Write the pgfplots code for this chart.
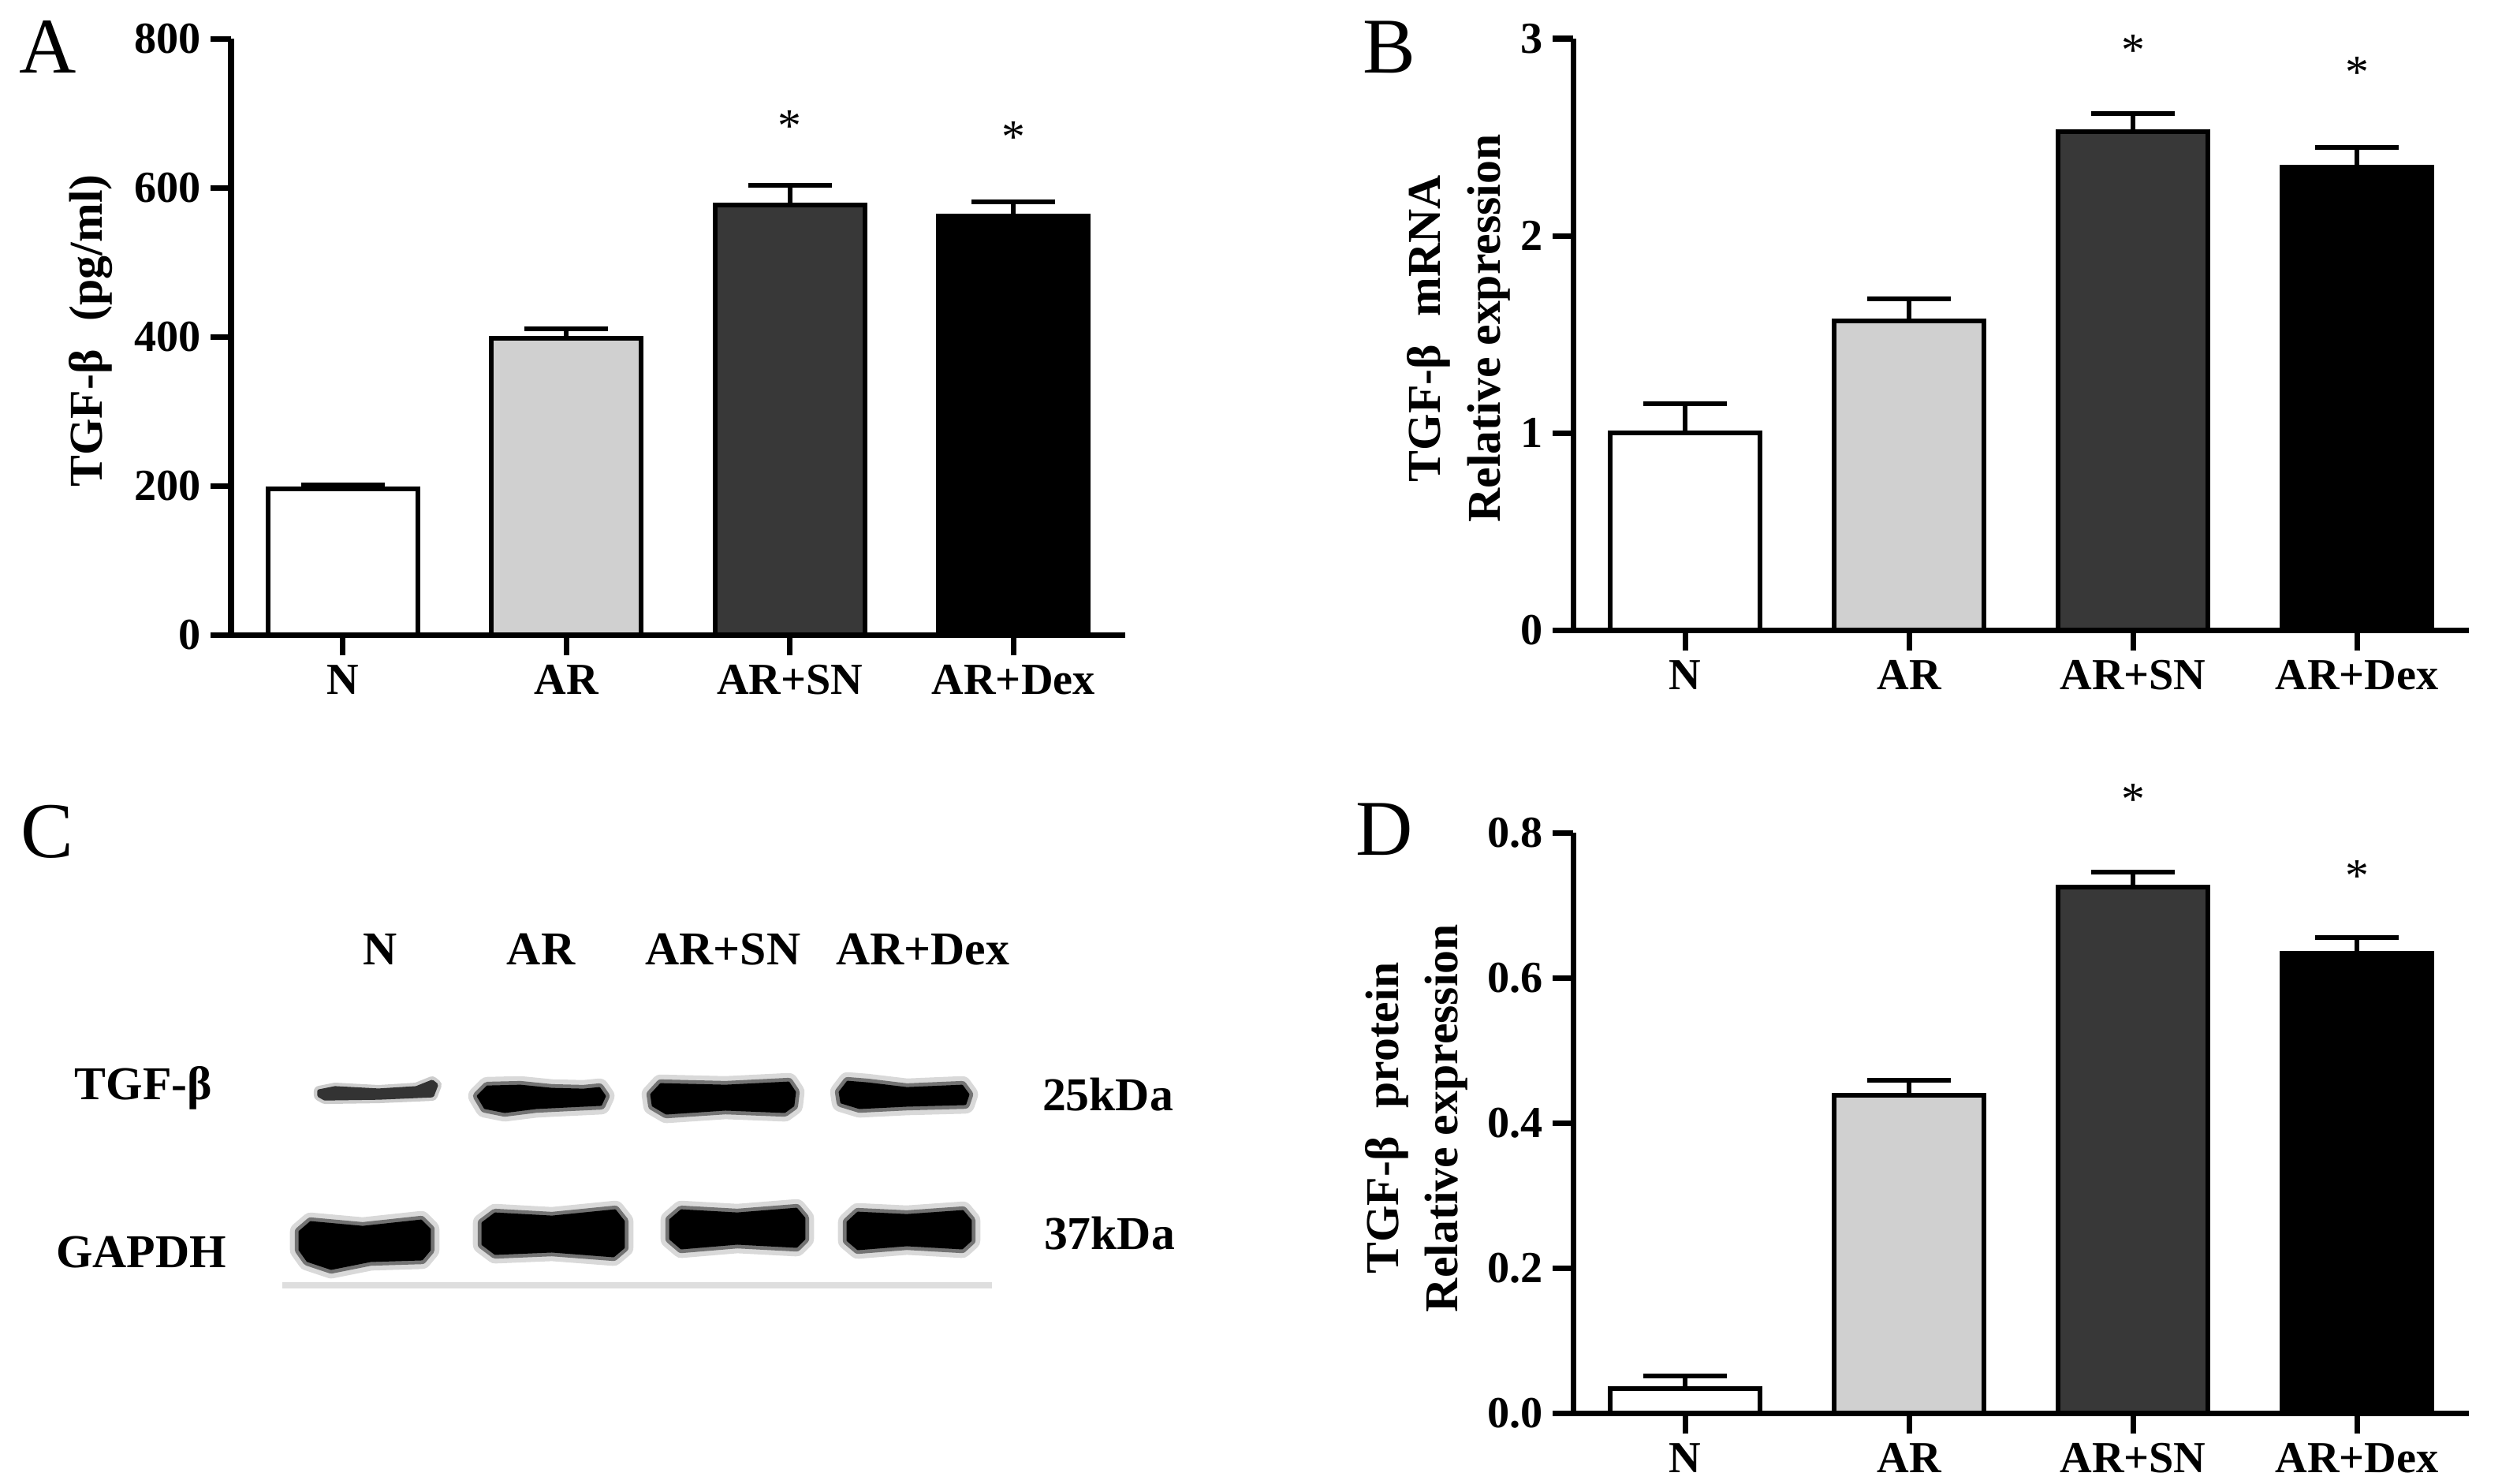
\documentclass[border=0pt]{standalone}
\usepackage{fontspec}
\setmainfont{Liberation Serif}
\usepackage{pgfplots}
\pgfplotsset{compat=1.18}

\definecolor{barAR}{HTML}{D0D0D0}
\definecolor{barSN}{HTML}{383838}

\newcommand{\tfont}{\fontsize{16}{19}\selectfont\bfseries}
\newcommand{\lfont}{\fontsize{17}{21.5}\selectfont\bfseries}

\pgfplotsset{
  prism/.style={
    scale only axis,
    anchor=south west,
    axis lines=left,
    axis line style={-, line width=2pt, black},
    tick align=outside,
    major tick length=0.26cm,
    tick style={line width=2pt, black},
    xmin=-0.5, xmax=3.5, ymin=0,
    enlargelimits=false,
    xtick={0,1,2,3},
    xticklabels={N,AR,AR+SN,AR+Dex},
    ticklabel style={font=\tfont},
    /pgf/number format/assume math mode=true,
    clip=false,
    every axis y label/.style={rotate=90, anchor=south, inner sep=0pt, align=center, font=\lfont},
  },
  prismbar/.style={ybar, bar shift=0pt, bar width=0.67, draw=black, line width=1.7pt,
    error bars/y dir=plus, error bars/y explicit,
    error bars/error bar style={line width=1.7pt, black},
    error bars/error mark=|,
    error bars/error mark options={line width=1.7pt, mark size=0.53cm, black}},
  stars/.style={draw=none, mark=none, point meta=explicit symbolic, nodes near coords,
    nodes near coords align={anchor=center},
    every node near coord/.append style={anchor=center, font=\fontsize{17}{19}\selectfont}},
}

% a blurred blot band: halo, soft edge, dark core
\newcommand{\band}[1]{%
  \addplot[draw=black!15, fill=black!15, line width=7pt, line join=round, mark=none] coordinates {#1} -- cycle;
  \addplot[draw=black!55, fill=black!55, line width=3.5pt, line join=round, mark=none] coordinates {#1} -- cycle;
  \addplot[draw=black, fill=black, line width=0.8pt, line join=round, mark=none] coordinates {#1} -- cycle;
}

\begin{document}
\begin{tikzpicture}
\path[use as bounding box] (0,0) rectangle (31.73,-18.81);

% ---------- background canvas: panel letters, western blot (panel C) ----------
\begin{axis}[at={(0,0)}, anchor=north west, scale only axis,
  width=31.73cm, height=18.81cm, xmin=0, xmax=3173, ymin=0, ymax=1881,
  y dir=reverse, hide axis, clip=false]
% TGF-beta bands (25 kDa)
\addplot[draw=black!20, fill=black!20, line width=4pt, line join=round, mark=none] coordinates {(405,1384)(425,1380)(480,1383)(528,1380)(548,1372)(553,1376)(548,1389)(480,1392)(412,1393)(405,1389)} -- cycle;
\addplot[draw=black!80, fill=black!80, line width=1.5pt, line join=round, mark=none] coordinates {(405,1384)(425,1380)(480,1383)(528,1380)(548,1372)(553,1376)(548,1389)(480,1392)(412,1393)(405,1389)} -- cycle;
\band{(606,1390)(618,1378)(660,1377)(700,1381)(740,1382)(760,1380)(767,1390)(762,1401)(720,1403)(680,1405)(640,1410)(615,1405)}
\band{(826,1388)(838,1375)(920,1377)(1000,1373)(1008,1385)(1006,1402)(995,1410)(920,1407)(845,1412)(828,1402)}
\band{(1065,1385)(1075,1372)(1100,1374)(1150,1380)(1220,1377)(1228,1388)(1224,1400)(1150,1402)(1090,1405)(1067,1398)}
% GAPDH bands (37 kDa)
\band{(380,1562)(394,1550)(460,1556)(534,1548)(545,1559)(545,1585)(535,1597)(470,1599)(420,1609)(390,1599)(380,1585)}
\band{(612,1551)(628,1539)(700,1543)(780,1535)(791,1549)(791,1582)(778,1593)(700,1587)(628,1590)(612,1578)}
\band{(850,1547)(864,1535)(935,1539)(1010,1533)(1020,1545)(1020,1571)(1010,1581)(935,1577)(864,1583)(850,1571)}
\band{(1075,1550)(1088,1538)(1150,1541)(1221,1536)(1231,1548)(1231,1573)(1220,1583)(1150,1579)(1088,1584)(1075,1573)}
% membrane edge line
\addplot[black!13, line width=2.2pt, mark=none] coordinates {(358,1630)(1258,1630)};

% panel letters
\node[anchor=base west, inner sep=0pt, font=\fontsize{28.5}{30}\selectfont] at (axis cs:24,92) {A};
\node[anchor=base west, inner sep=0pt, font=\fontsize{28.5}{30}\selectfont] at (axis cs:1728,92) {B};
\node[anchor=base west, inner sep=0pt, font=\fontsize{28.5}{30}\selectfont] at (axis cs:26,1087) {C};
\node[anchor=base west, inner sep=0pt, font=\fontsize{28.5}{30}\selectfont] at (axis cs:1719,1084) {D};

% blot labels
\node[anchor=base, inner sep=0pt, font=\lfont] at (axis cs:482,1223) {N};
\node[anchor=base, inner sep=0pt, font=\lfont] at (axis cs:686,1223) {AR};
\node[anchor=base, inner sep=0pt, font=\lfont] at (axis cs:917,1223) {AR+SN};
\node[anchor=base, inner sep=0pt, font=\lfont] at (axis cs:1170,1223) {AR+Dex};
\node[anchor=base, inner sep=0pt, font=\lfont] at (axis cs:182,1394) {TGF-β};
\node[anchor=base, inner sep=0pt, font=\lfont] at (axis cs:179,1607) {GAPDH};
\node[anchor=base, inner sep=0pt, font=\lfont] at (axis cs:1405,1408) {25kDa};
\node[anchor=base, inner sep=0pt, font=\lfont] at (axis cs:1407,1584) {37kDa};
\end{axis}

% ---------- Panel A ----------
\begin{axis}[prism, at={(2.93cm,-8.05cm)}, width=11.34cm, height=7.56cm,
  ymax=800, ytick={0,200,400,600,800},
  ylabel={TGF-β\hspace{0.6em}(pg/ml)},
  ylabel style={at={(axis description cs:-0.132,0.51)}}]
\addplot[prismbar, fill=white] coordinates {(0,196) +- (0,5)};
\addplot[prismbar, fill=barAR] coordinates {(1,398) +- (0,13)};
\addplot[prismbar, fill=barSN] coordinates {(2,577) +- (0,26)};
\addplot[prismbar, fill=black] coordinates {(3,562) +- (0,19)};
\addplot[stars] coordinates {(2,683) [*] (3,668) [*]};
\end{axis}

% ---------- Panel B ----------
\begin{axis}[prism, at={(19.95cm,-7.99cm)}, width=11.36cm, height=7.50cm,
  ymax=3, ytick={0,1,2,3},
  ylabel={TGF-β\hspace{0.6em}mRNA\\Relative expression},
  ylabel style={at={(axis description cs:-0.0700,0.51)}}]
\addplot[prismbar, fill=white] coordinates {(0,1.00) +- (0,0.15)};
\addplot[prismbar, fill=barAR] coordinates {(1,1.57) +- (0,0.11)};
\addplot[prismbar, fill=barSN] coordinates {(2,2.53) +- (0,0.09)};
\addplot[prismbar, fill=black] coordinates {(3,2.35) +- (0,0.10)};
\addplot[stars] coordinates {(2,2.94) [*] (3,2.83) [*]};
\end{axis}

% ---------- Panel D ----------
\begin{axis}[prism, at={(19.95cm,-17.92cm)}, width=11.36cm, height=7.36cm,
  ymax=0.8, ytick={0,0.2,0.4,0.6,0.8},
  yticklabel style={/pgf/number format/.cd, fixed, fixed zerofill, precision=1},
  ylabel={TGF-β\hspace{0.6em}protein\\Relative expression},
  ylabel style={at={(axis description cs:-0.1170,0.508)}}]
\addplot[prismbar, fill=white] coordinates {(0,0.034) +- (0,0.017)};
\addplot[prismbar, fill=barAR] coordinates {(1,0.438) +- (0,0.021)};
\addplot[prismbar, fill=barSN] coordinates {(2,0.725) +- (0,0.021)};
\addplot[prismbar, fill=black] coordinates {(3,0.634) +- (0,0.022)};
\addplot[stars] coordinates {(2,0.846) [*] (3,0.740) [*]};
\end{axis}
\end{tikzpicture}
\end{document}
